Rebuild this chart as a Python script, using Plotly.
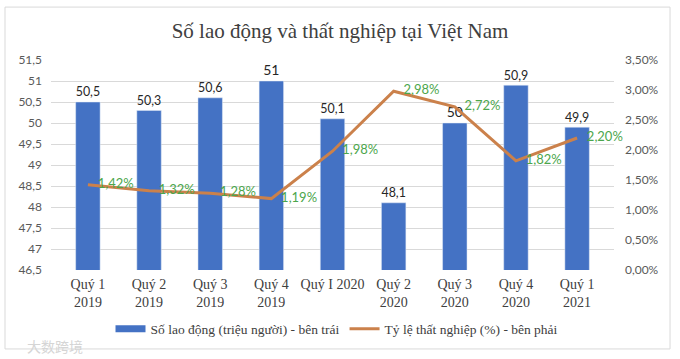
import plotly.graph_objects as go

categories = ["Quý 1<br>2019", "Quý 2<br>2019", "Quý 3<br>2019", "Quý 4<br>2019", "Quý I 2020",
              "Quý 2<br>2020", "Quý 3<br>2020", "Quý 4<br>2020", "Quý 1<br>2021"]
labor = [50.5, 50.3, 50.6, 51, 50.1, 48.1, 50, 50.9, 49.9]
unemployment = [0.0142, 0.0132, 0.0128, 0.0119, 0.0198, 0.0298, 0.0272, 0.0182, 0.0220]

labor_text = [f"{v:g}".replace(".", ",") for v in labor]

serif = "Liberation Serif"
sans = "Lato"
bar_color = "#4472C4"
line_color = "#CB814B"

fig = go.Figure()
fig.add_trace(go.Bar(
    x=categories, y=labor, name="Số lao động (triệu người) - bên trái",
    marker_color=bar_color, text=labor_text, textposition="outside",
    textfont=dict(family=sans, size=14, color="#262626"), cliponaxis=False,
    width=0.4, showlegend=False,
))
fig.add_trace(go.Scatter(
    x=categories, y=unemployment, name="Tỷ lệ thất nghiệp (%) - bên phải",
    yaxis="y2", mode="lines+markers+text", line=dict(color=line_color, width=3),
    marker=dict(size=14, color="rgba(0,0,0,0)"),
    texttemplate="%{y:.2%}", textposition="middle right",
    textfont=dict(family=sans, size=13, color="#4CA64C"), cliponaxis=False,
    showlegend=False,
))
# legend entries (no marks drawn)
fig.add_trace(go.Scatter(x=[None], y=[None], mode="lines", name="Số lao động (triệu người) - bên trái",
                         line=dict(color=bar_color, width=7)))
fig.add_trace(go.Scatter(x=[None], y=[None], mode="lines", name="Tỷ lệ thất nghiệp (%) - bên phải",
                         line=dict(color=line_color, width=3), yaxis="y2"))

fig.update_layout(
    width=680, height=359,
    separators=",.",
    margin=dict(l=51, r=66, t=60, b=89),
    paper_bgcolor="white", plot_bgcolor="white",
    title=dict(text="Số lao động và thất nghiệp tại Việt Nam", x=0.5, xanchor="center",
               y=0.916, yanchor="middle", font=dict(family=serif, size=21, color="#404040")),
    xaxis=dict(showgrid=False, showline=False, ticks="", ticklabelstandoff=4,
               tickfont=dict(family=serif, size=14, color="#404040")),
    yaxis=dict(range=[46.5, 51.5], dtick=0.5, showgrid=True, gridcolor="#D9D9D9",
               zeroline=False, showline=False, ticks="", ticklabelstandoff=8,
               tickfont=dict(family=sans, size=12, color="#595959")),
    yaxis2=dict(range=[0, 0.035], dtick=0.005, tickformat=".2%", overlaying="y", side="right",
                showgrid=False, zeroline=False, showline=False, ticks="", ticklabelstandoff=10,
                tickfont=dict(family=sans, size=12, color="#595959")),
    legend=dict(orientation="h", x=0.508, xanchor="center", y=-0.281, yanchor="middle",
                font=dict(family=serif, size=13.5, color="#404040"),
                itemwidth=30, traceorder="normal", tracegroupgap=0),
    showlegend=True,
    shapes=[dict(type="rect", xref="paper", yref="paper", x0=-0.0817, x1=1.0995,
                 y0=-0.376, y1=1.252, line=dict(color="#D9D9D9", width=1), layer="below")],
    annotations=[dict(text="大数跨境", xref="paper", yref="paper", x=-0.046, y=-0.362,
                      xanchor="left", yanchor="middle", showarrow=False,
                      font=dict(family="Noto Sans CJK SC", size=14, color="#D5D5D5"))],
)

fig.write_html("out.html", config={"displayModeBar": False},
               post_script="document.body.style.margin='0';")
